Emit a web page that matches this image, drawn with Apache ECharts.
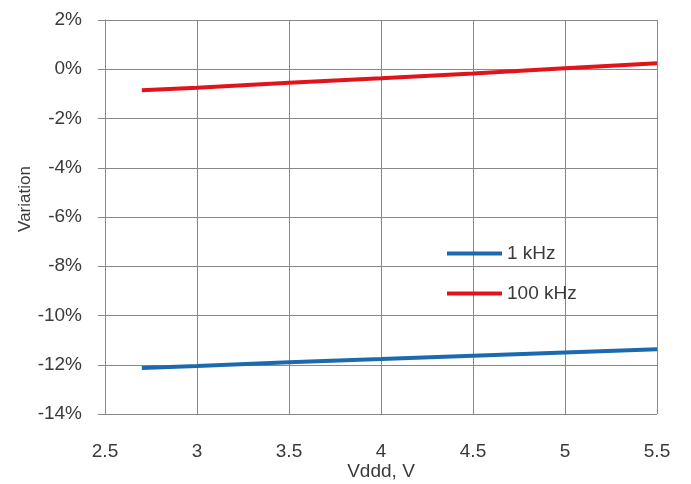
<!DOCTYPE html>
<html>
<head>
<meta charset="utf-8">
<script src="https://cdn.jsdelivr.net/npm/echarts@6/dist/echarts.min.js"></script>
<style>html,body{margin:0;padding:0;background:#fff;}#c{width:691px;height:484px;}</style>
</head>
<body>
<div id="c"></div>
<script>
var voltages = [2.7, 3.0, 3.5, 4.0, 4.5, 5.0, 5.5];
var series1kHz = [-12.13, -12.05, -11.9, -11.77, -11.63, -11.5, -11.37];
var series100kHz = [-0.85, -0.75, -0.55, -0.37, -0.17, 0.04, 0.24];
var seriesNames = ['1 kHz', '100 kHz'];
var xTitle = 'Vddd, V';
var yTitle = 'Variation';

function pairs(xs, ys) { return xs.map(function (x, i) { return [x, ys[i]]; }); }

var chart = echarts.init(document.getElementById('c'), null, {renderer: 'canvas'});
var font = 'Arial, "Liberation Sans", sans-serif';
chart.setOption({
  animation: false,
  backgroundColor: '#fff',
  grid: {left: 105, right: 34, top: 20, bottom: 70, show: false, containLabel: false, outerBoundsMode: 'none'},
  legend: {
    orient: 'vertical', left: 447, top: 244, padding: 0, itemWidth: 55, itemHeight: 4, itemGap: 21,
    icon: 'rect',
    textStyle: {fontFamily: font, fontSize: 19, color: '#3a3a3a'},
    data: seriesNames
  },
  xAxis: {
    type: 'value', min: 2.5, max: 5.5, interval: 0.5,
    name: xTitle, nameLocation: 'middle', nameGap: 48, nameMoveOverlap: false,
    nameTextStyle: {fontFamily: font, fontSize: 19, color: '#3a3a3a'},
    axisLine: {show: true, lineStyle: {color: '#888', width: 1}},
    axisTick: {show: false},
    axisLabel: {fontFamily: font, fontSize: 19, color: '#3a3a3a', margin: 28},
    splitLine: {show: true, lineStyle: {color: '#888', width: 1}}
  },
  yAxis: {
    type: 'value', min: -14, max: 2, interval: 2,
    name: yTitle, nameLocation: 'middle', nameGap: 71, nameMoveOverlap: false,
    nameTextStyle: {fontFamily: font, fontSize: 17, color: '#3a3a3a', padding: [0, 0, 0, 36]},
    axisLine: {show: true, lineStyle: {color: '#888', width: 1}},
    axisTick: {show: true, inside: false, length: 7, lineStyle: {color: '#888'}},
    axisLabel: {fontFamily: font, fontSize: 19, color: '#3a3a3a', margin: 23,
      formatter: function (v) { return v + '%'; }},
    splitLine: {show: true, lineStyle: {color: '#888', width: 1}}
  },
  series: [
    {name: seriesNames[0], type: 'line', data: pairs(voltages, series1kHz),
     showSymbol: false, lineStyle: {color: '#1B6AAE', width: 4}, itemStyle: {color: '#1B6AAE'}},
    {name: seriesNames[1], type: 'line', data: pairs(voltages, series100kHz),
     showSymbol: false, lineStyle: {color: '#E2141B', width: 4}, itemStyle: {color: '#E2141B'}}
  ]
});
</script>
</body>
</html>
